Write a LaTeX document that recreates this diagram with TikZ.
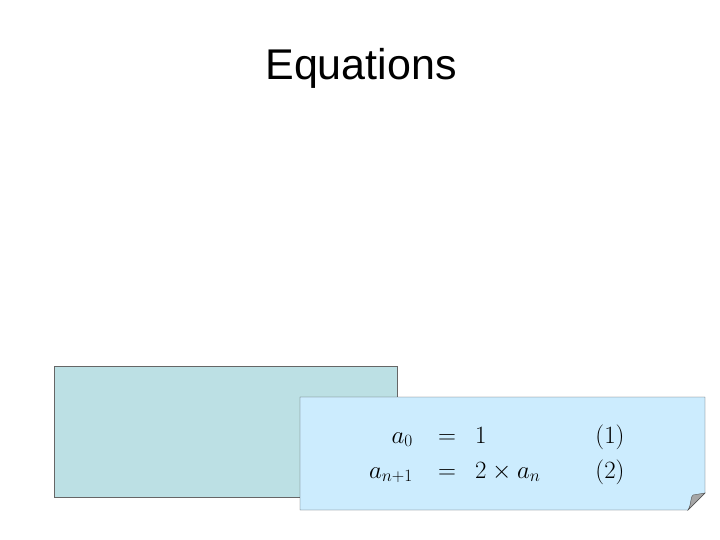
\documentclass[tikz,border=0pt]{standalone}
\usepackage{fontspec}
\newfontfamily\arial{Liberation Sans}
\begin{document}
\begin{tikzpicture}[x=1pt,y=-1pt,
  eq/.style={inner sep=0pt,font=\fontsize{27}{32}\selectfont}]
\useasboundingbox (0,0) rectangle (720,540);
\node[font=\arial\fontsize{43}{50}\selectfont] (title) at (361,68) {Equations};
\path[draw=black!60,fill={rgb,255:red,188;green,224;blue,228}] (54,366) rectangle (397,497);
\path[draw=black!70,fill={rgb,255:red,204;green,236;blue,254}] (300,397) -- (705,397) -- (705,493) -- (688,510) -- (300,510) -- cycle;
\path[draw=black!70,fill=black!35] (688,510) .. controls (692,503) and (690,497) .. (693,495) -- (705,493) -- cycle;
\node[eq,anchor=base east] (l1) at (413,443) {$a_0$};
\node[eq,anchor=base] (e1) at (447,443) {$=$};
\node[eq,anchor=base west] (r1) at (475,443) {$1$};
\node[eq,anchor=base] (n1) at (610,443) {$(1)$};
\node[eq,anchor=base east] (l2) at (413,478) {$a_{n+1}$};
\node[eq,anchor=base] (e2) at (447,478) {$=$};
\node[eq,anchor=base west] (r2) at (475,478) {$2\times a_n$};
\node[eq,anchor=base] (n2) at (610,478) {$(2)$};
\end{tikzpicture}
\end{document}
